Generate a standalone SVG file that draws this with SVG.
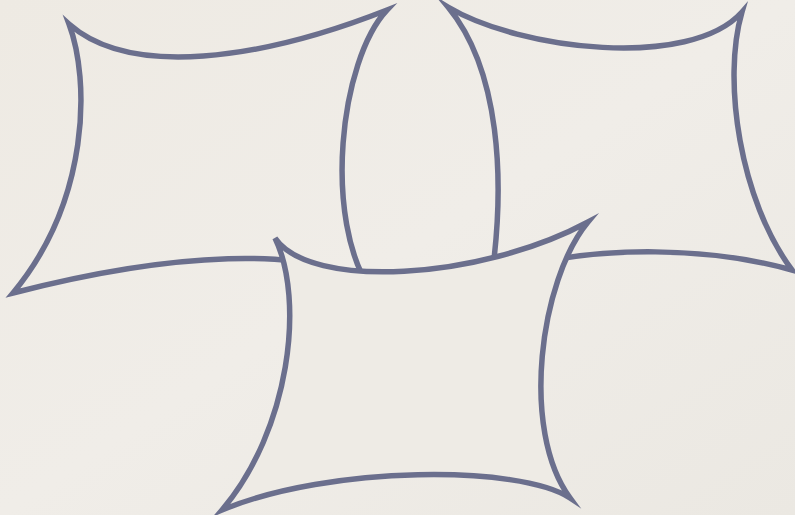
<svg xmlns="http://www.w3.org/2000/svg" width="795" height="515" viewBox="0 0 795 515">
  <defs>
    <linearGradient id="paper" x1="0" y1="0" x2="1" y2="1">
      <stop offset="0" stop-color="#eeeae3"/>
      <stop offset="0.5" stop-color="#f0ede8"/>
      <stop offset="1" stop-color="#ebe8e2"/>
    </linearGradient>
  </defs>
  <style>
    .shape { stroke: #6b6f8d; stroke-width: 5.5; stroke-linejoin: miter; stroke-miterlimit: 8; stroke-linecap: round; }
    .open { fill: none; }
    .front { fill: #eeebe5; }
  </style>
  <rect x="0" y="0" width="795" height="515" fill="url(#paper)"/>
  <g id="shape-left">
    <path class="shape open" d="M 69,24 C 130,78 260,60 387,10 C 340,60 322,220 372,292 C 320,240 160,255 13,293 C 90,200 90,80 69,24 Z"/>
  </g>
  <g id="shape-right">
    <path class="shape open" d="M 448,7 C 520,50 690,70 742,12 C 722,80 740,200 792,270 C 720,250 600,240 492,275 C 505,180 500,70 448,7 Z"/>
  </g>
  <g id="shape-bottom">
    <path class="shape front" d="M 275,238 C 310,290 480,280 588,222 C 540,280 520,430 570,498 C 520,465 330,465 222,510 C 290,430 305,300 275,238 Z"/>
  </g>
</svg>
